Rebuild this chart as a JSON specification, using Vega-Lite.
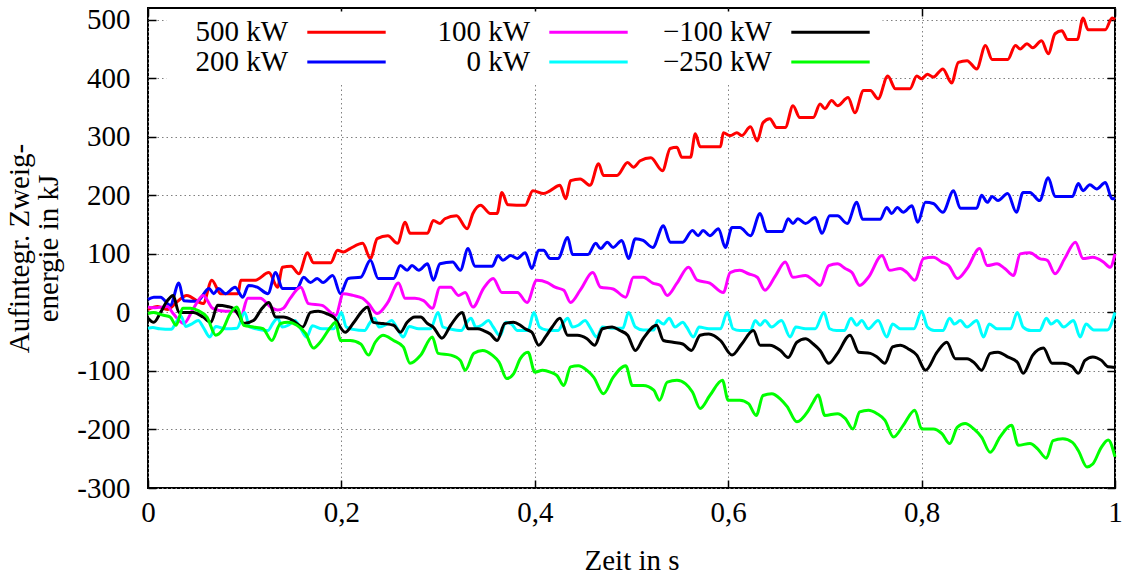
{
 "$schema": "https://vega.github.io/schema/vega-lite/v6.json",
 "width": 967,
 "height": 480,
 "autosize": {"type": "none"},
 "padding": {"left": 148, "top": 8, "right": 9, "bottom": 88},
 "config": {
  "font": "Liberation Serif",
  "view": {"stroke": "black", "strokeWidth": 2},
  "style": {"guide-label": {"font": "Liberation Serif", "fontSize": 29, "fill": "black"}, "guide-title": {"font": "Liberation Serif", "fontSize": 29, "fill": "black", "fontWeight": "normal"}},
  "axis": {"labelFont": "Liberation Serif", "titleFont": "Liberation Serif", "labelColor": "black", "titleColor": "black", "labelFontSize": 29, "titleFontSize": 29, "titleFontWeight": "normal", "tickColor": "black", "tickWidth": 1.5, "domain": false},
  "legend": {"labelFont": "Liberation Serif", "labelFontSize": 29}
 },
 "data": {"values": [
{"P":"500 kW","t":0,"E":5},{"P":"500 kW","t":0.01,"E":10},{"P":"500 kW","t":0.02,"E":5},{"P":"500 kW","t":0.03,"E":18},{"P":"500 kW","t":0.04,"E":29},{"P":"500 kW","t":0.057,"E":15},{"P":"500 kW","t":0.066,"E":55},{"P":"500 kW","t":0.075,"E":32},{"P":"500 kW","t":0.093,"E":32},{"P":"500 kW","t":0.096,"E":55},{"P":"500 kW","t":0.111,"E":55},{"P":"500 kW","t":0.125,"E":68},{"P":"500 kW","t":0.134,"E":43},{"P":"500 kW","t":0.139,"E":77},{"P":"500 kW","t":0.148,"E":79},{"P":"500 kW","t":0.156,"E":66},{"P":"500 kW","t":0.165,"E":102},{"P":"500 kW","t":0.171,"E":85},{"P":"500 kW","t":0.189,"E":85},{"P":"500 kW","t":0.196,"E":106},{"P":"500 kW","t":0.202,"E":103},{"P":"500 kW","t":0.209,"E":109},{"P":"500 kW","t":0.222,"E":118},{"P":"500 kW","t":0.23,"E":92},{"P":"500 kW","t":0.237,"E":126},{"P":"500 kW","t":0.248,"E":131},{"P":"500 kW","t":0.258,"E":118},{"P":"500 kW","t":0.266,"E":154},{"P":"500 kW","t":0.271,"E":135},{"P":"500 kW","t":0.289,"E":135},{"P":"500 kW","t":0.295,"E":157},{"P":"500 kW","t":0.302,"E":152},{"P":"500 kW","t":0.307,"E":160},{"P":"500 kW","t":0.319,"E":165},{"P":"500 kW","t":0.33,"E":143},{"P":"500 kW","t":0.336,"E":169},{"P":"500 kW","t":0.344,"E":183},{"P":"500 kW","t":0.354,"E":169},{"P":"500 kW","t":0.361,"E":169},{"P":"500 kW","t":0.366,"E":205},{"P":"500 kW","t":0.372,"E":184},{"P":"500 kW","t":0.39,"E":183},{"P":"500 kW","t":0.398,"E":208},{"P":"500 kW","t":0.409,"E":203},{"P":"500 kW","t":0.416,"E":208},{"P":"500 kW","t":0.426,"E":217},{"P":"500 kW","t":0.432,"E":194},{"P":"500 kW","t":0.437,"E":225},{"P":"500 kW","t":0.447,"E":228},{"P":"500 kW","t":0.457,"E":217},{"P":"500 kW","t":0.466,"E":254},{"P":"500 kW","t":0.471,"E":234},{"P":"500 kW","t":0.485,"E":234},{"P":"500 kW","t":0.496,"E":256},{"P":"500 kW","t":0.502,"E":248},{"P":"500 kW","t":0.509,"E":259},{"P":"500 kW","t":0.52,"E":264},{"P":"500 kW","t":0.532,"E":242},{"P":"500 kW","t":0.54,"E":280},{"P":"500 kW","t":0.547,"E":282},{"P":"500 kW","t":0.552,"E":265},{"P":"500 kW","t":0.561,"E":265},{"P":"500 kW","t":0.566,"E":305},{"P":"500 kW","t":0.571,"E":283},{"P":"500 kW","t":0.592,"E":283},{"P":"500 kW","t":0.595,"E":307},{"P":"500 kW","t":0.602,"E":302},{"P":"500 kW","t":0.609,"E":307},{"P":"500 kW","t":0.614,"E":302},{"P":"500 kW","t":0.623,"E":317},{"P":"500 kW","t":0.63,"E":293},{"P":"500 kW","t":0.636,"E":324},{"P":"500 kW","t":0.643,"E":331},{"P":"500 kW","t":0.65,"E":316},{"P":"500 kW","t":0.659,"E":316},{"P":"500 kW","t":0.667,"E":353},{"P":"500 kW","t":0.674,"E":333},{"P":"500 kW","t":0.688,"E":333},{"P":"500 kW","t":0.695,"E":356},{"P":"500 kW","t":0.7,"E":348},{"P":"500 kW","t":0.707,"E":362},{"P":"500 kW","t":0.713,"E":353},{"P":"500 kW","t":0.724,"E":367},{"P":"500 kW","t":0.731,"E":341},{"P":"500 kW","t":0.74,"E":379},{"P":"500 kW","t":0.747,"E":379},{"P":"500 kW","t":0.755,"E":365},{"P":"500 kW","t":0.765,"E":404},{"P":"500 kW","t":0.773,"E":382},{"P":"500 kW","t":0.788,"E":382},{"P":"500 kW","t":0.795,"E":404},{"P":"500 kW","t":0.8,"E":399},{"P":"500 kW","t":0.806,"E":407},{"P":"500 kW","t":0.812,"E":402},{"P":"500 kW","t":0.822,"E":416},{"P":"500 kW","t":0.831,"E":392},{"P":"500 kW","t":0.838,"E":427},{"P":"500 kW","t":0.847,"E":430},{"P":"500 kW","t":0.857,"E":416},{"P":"500 kW","t":0.866,"E":456},{"P":"500 kW","t":0.873,"E":432},{"P":"500 kW","t":0.889,"E":432},{"P":"500 kW","t":0.897,"E":456},{"P":"500 kW","t":0.902,"E":450},{"P":"500 kW","t":0.909,"E":459},{"P":"500 kW","t":0.915,"E":452},{"P":"500 kW","t":0.924,"E":464},{"P":"500 kW","t":0.931,"E":442},{"P":"500 kW","t":0.938,"E":476},{"P":"500 kW","t":0.945,"E":481},{"P":"500 kW","t":0.951,"E":466},{"P":"500 kW","t":0.961,"E":466},{"P":"500 kW","t":0.967,"E":503},{"P":"500 kW","t":0.972,"E":483},{"P":"500 kW","t":0.99,"E":483},{"P":"500 kW","t":0.997,"E":503},{"P":"500 kW","t":1,"E":500},
{"P":"200 kW","t":0,"E":22},{"P":"200 kW","t":0.006,"E":26},{"P":"200 kW","t":0.013,"E":26},{"P":"200 kW","t":0.023,"E":12},{"P":"200 kW","t":0.032,"E":50},{"P":"200 kW","t":0.037,"E":20},{"P":"200 kW","t":0.051,"E":19},{"P":"200 kW","t":0.063,"E":41},{"P":"200 kW","t":0.068,"E":32},{"P":"200 kW","t":0.073,"E":41},{"P":"200 kW","t":0.08,"E":32},{"P":"200 kW","t":0.09,"E":43},{"P":"200 kW","t":0.098,"E":26},{"P":"200 kW","t":0.104,"E":46},{"P":"200 kW","t":0.113,"E":43},{"P":"200 kW","t":0.124,"E":32},{"P":"200 kW","t":0.132,"E":68},{"P":"200 kW","t":0.139,"E":41},{"P":"200 kW","t":0.154,"E":41},{"P":"200 kW","t":0.161,"E":60},{"P":"200 kW","t":0.168,"E":51},{"P":"200 kW","t":0.175,"E":58},{"P":"200 kW","t":0.181,"E":51},{"P":"200 kW","t":0.191,"E":63},{"P":"200 kW","t":0.199,"E":32},{"P":"200 kW","t":0.207,"E":58},{"P":"200 kW","t":0.22,"E":60},{"P":"200 kW","t":0.23,"E":89},{"P":"200 kW","t":0.238,"E":58},{"P":"200 kW","t":0.254,"E":58},{"P":"200 kW","t":0.261,"E":80},{"P":"200 kW","t":0.268,"E":72},{"P":"200 kW","t":0.273,"E":80},{"P":"200 kW","t":0.28,"E":72},{"P":"200 kW","t":0.289,"E":83},{"P":"200 kW","t":0.295,"E":55},{"P":"200 kW","t":0.302,"E":83},{"P":"200 kW","t":0.315,"E":86},{"P":"200 kW","t":0.323,"E":72},{"P":"200 kW","t":0.331,"E":109},{"P":"200 kW","t":0.338,"E":79},{"P":"200 kW","t":0.356,"E":79},{"P":"200 kW","t":0.362,"E":97},{"P":"200 kW","t":0.367,"E":89},{"P":"200 kW","t":0.375,"E":97},{"P":"200 kW","t":0.382,"E":92},{"P":"200 kW","t":0.39,"E":102},{"P":"200 kW","t":0.397,"E":75},{"P":"200 kW","t":0.404,"E":106},{"P":"200 kW","t":0.409,"E":106},{"P":"200 kW","t":0.416,"E":92},{"P":"200 kW","t":0.424,"E":92},{"P":"200 kW","t":0.434,"E":128},{"P":"200 kW","t":0.439,"E":99},{"P":"200 kW","t":0.455,"E":99},{"P":"200 kW","t":0.463,"E":118},{"P":"200 kW","t":0.468,"E":109},{"P":"200 kW","t":0.475,"E":120},{"P":"200 kW","t":0.481,"E":111},{"P":"200 kW","t":0.49,"E":123},{"P":"200 kW","t":0.497,"E":92},{"P":"200 kW","t":0.504,"E":126},{"P":"200 kW","t":0.512,"E":123},{"P":"200 kW","t":0.522,"E":111},{"P":"200 kW","t":0.533,"E":148},{"P":"200 kW","t":0.54,"E":120},{"P":"200 kW","t":0.553,"E":120},{"P":"200 kW","t":0.563,"E":140},{"P":"200 kW","t":0.569,"E":131},{"P":"200 kW","t":0.574,"E":140},{"P":"200 kW","t":0.581,"E":131},{"P":"200 kW","t":0.59,"E":143},{"P":"200 kW","t":0.597,"E":111},{"P":"200 kW","t":0.604,"E":145},{"P":"200 kW","t":0.612,"E":145},{"P":"200 kW","t":0.623,"E":131},{"P":"200 kW","t":0.633,"E":169},{"P":"200 kW","t":0.64,"E":138},{"P":"200 kW","t":0.656,"E":138},{"P":"200 kW","t":0.662,"E":160},{"P":"200 kW","t":0.667,"E":152},{"P":"200 kW","t":0.672,"E":160},{"P":"200 kW","t":0.68,"E":152},{"P":"200 kW","t":0.69,"E":162},{"P":"200 kW","t":0.697,"E":135},{"P":"200 kW","t":0.705,"E":165},{"P":"200 kW","t":0.713,"E":165},{"P":"200 kW","t":0.723,"E":152},{"P":"200 kW","t":0.733,"E":188},{"P":"200 kW","t":0.739,"E":159},{"P":"200 kW","t":0.757,"E":159},{"P":"200 kW","t":0.764,"E":179},{"P":"200 kW","t":0.769,"E":169},{"P":"200 kW","t":0.775,"E":179},{"P":"200 kW","t":0.781,"E":171},{"P":"200 kW","t":0.79,"E":182},{"P":"200 kW","t":0.796,"E":154},{"P":"200 kW","t":0.804,"E":188},{"P":"200 kW","t":0.812,"E":186},{"P":"200 kW","t":0.822,"E":171},{"P":"200 kW","t":0.833,"E":208},{"P":"200 kW","t":0.84,"E":178},{"P":"200 kW","t":0.857,"E":178},{"P":"200 kW","t":0.862,"E":200},{"P":"200 kW","t":0.868,"E":188},{"P":"200 kW","t":0.873,"E":198},{"P":"200 kW","t":0.879,"E":191},{"P":"200 kW","t":0.889,"E":203},{"P":"200 kW","t":0.898,"E":171},{"P":"200 kW","t":0.905,"E":205},{"P":"200 kW","t":0.912,"E":205},{"P":"200 kW","t":0.922,"E":191},{"P":"200 kW","t":0.931,"E":230},{"P":"200 kW","t":0.938,"E":198},{"P":"200 kW","t":0.956,"E":198},{"P":"200 kW","t":0.962,"E":220},{"P":"200 kW","t":0.967,"E":208},{"P":"200 kW","t":0.974,"E":218},{"P":"200 kW","t":0.981,"E":211},{"P":"200 kW","t":0.99,"E":222},{"P":"200 kW","t":0.997,"E":194},{"P":"200 kW","t":1,"E":195},
{"P":"100 kW","t":0,"E":9},{"P":"100 kW","t":0.007,"E":8},{"P":"100 kW","t":0.02,"E":10},{"P":"100 kW","t":0.026,"E":-2},{"P":"100 kW","t":0.037,"E":-19},{"P":"100 kW","t":0.047,"E":7},{"P":"100 kW","t":0.057,"E":29},{"P":"100 kW","t":0.067,"E":7},{"P":"100 kW","t":0.08,"E":2},{"P":"100 kW","t":0.09,"E":2},{"P":"100 kW","t":0.096,"E":-8},{"P":"100 kW","t":0.103,"E":24},{"P":"100 kW","t":0.116,"E":24},{"P":"100 kW","t":0.127,"E":9},{"P":"100 kW","t":0.134,"E":4},{"P":"100 kW","t":0.14,"E":7},{"P":"100 kW","t":0.147,"E":24},{"P":"100 kW","t":0.158,"E":43},{"P":"100 kW","t":0.166,"E":15},{"P":"100 kW","t":0.18,"E":12},{"P":"100 kW","t":0.194,"E":-5},{"P":"100 kW","t":0.202,"E":32},{"P":"100 kW","t":0.212,"E":29},{"P":"100 kW","t":0.222,"E":24},{"P":"100 kW","t":0.228,"E":15},{"P":"100 kW","t":0.237,"E":-2},{"P":"100 kW","t":0.248,"E":17},{"P":"100 kW","t":0.259,"E":50},{"P":"100 kW","t":0.266,"E":24},{"P":"100 kW","t":0.276,"E":24},{"P":"100 kW","t":0.285,"E":20},{"P":"100 kW","t":0.294,"E":7},{"P":"100 kW","t":0.302,"E":43},{"P":"100 kW","t":0.313,"E":43},{"P":"100 kW","t":0.321,"E":29},{"P":"100 kW","t":0.328,"E":34},{"P":"100 kW","t":0.336,"E":9},{"P":"100 kW","t":0.347,"E":41},{"P":"100 kW","t":0.357,"E":58},{"P":"100 kW","t":0.366,"E":34},{"P":"100 kW","t":0.382,"E":34},{"P":"100 kW","t":0.392,"E":17},{"P":"100 kW","t":0.402,"E":55},{"P":"100 kW","t":0.413,"E":51},{"P":"100 kW","t":0.421,"E":43},{"P":"100 kW","t":0.43,"E":38},{"P":"100 kW","t":0.437,"E":17},{"P":"100 kW","t":0.447,"E":38},{"P":"100 kW","t":0.46,"E":68},{"P":"100 kW","t":0.468,"E":43},{"P":"100 kW","t":0.481,"E":40},{"P":"100 kW","t":0.494,"E":26},{"P":"100 kW","t":0.502,"E":60},{"P":"100 kW","t":0.512,"E":60},{"P":"100 kW","t":0.522,"E":50},{"P":"100 kW","t":0.53,"E":46},{"P":"100 kW","t":0.537,"E":29},{"P":"100 kW","t":0.547,"E":50},{"P":"100 kW","t":0.559,"E":77},{"P":"100 kW","t":0.568,"E":55},{"P":"100 kW","t":0.581,"E":50},{"P":"100 kW","t":0.595,"E":34},{"P":"100 kW","t":0.602,"E":68},{"P":"100 kW","t":0.612,"E":72},{"P":"100 kW","t":0.621,"E":66},{"P":"100 kW","t":0.63,"E":60},{"P":"100 kW","t":0.638,"E":38},{"P":"100 kW","t":0.649,"E":63},{"P":"100 kW","t":0.659,"E":86},{"P":"100 kW","t":0.667,"E":60},{"P":"100 kW","t":0.68,"E":63},{"P":"100 kW","t":0.688,"E":55},{"P":"100 kW","t":0.695,"E":46},{"P":"100 kW","t":0.704,"E":80},{"P":"100 kW","t":0.713,"E":83},{"P":"100 kW","t":0.721,"E":75},{"P":"100 kW","t":0.728,"E":68},{"P":"100 kW","t":0.736,"E":46},{"P":"100 kW","t":0.745,"E":60},{"P":"100 kW","t":0.759,"E":97},{"P":"100 kW","t":0.767,"E":72},{"P":"100 kW","t":0.778,"E":75},{"P":"100 kW","t":0.785,"E":68},{"P":"100 kW","t":0.793,"E":55},{"P":"100 kW","t":0.802,"E":92},{"P":"100 kW","t":0.812,"E":94},{"P":"100 kW","t":0.821,"E":86},{"P":"100 kW","t":0.828,"E":80},{"P":"100 kW","t":0.837,"E":58},{"P":"100 kW","t":0.847,"E":75},{"P":"100 kW","t":0.86,"E":109},{"P":"100 kW","t":0.868,"E":80},{"P":"100 kW","t":0.878,"E":83},{"P":"100 kW","t":0.886,"E":75},{"P":"100 kW","t":0.895,"E":63},{"P":"100 kW","t":0.902,"E":100},{"P":"100 kW","t":0.912,"E":102},{"P":"100 kW","t":0.922,"E":92},{"P":"100 kW","t":0.93,"E":89},{"P":"100 kW","t":0.938,"E":66},{"P":"100 kW","t":0.948,"E":92},{"P":"100 kW","t":0.959,"E":120},{"P":"100 kW","t":0.967,"E":92},{"P":"100 kW","t":0.977,"E":94},{"P":"100 kW","t":0.988,"E":86},{"P":"100 kW","t":0.995,"E":77},{"P":"100 kW","t":1,"E":100},
{"P":"0 kW","t":0,"E":-27},{"P":"0 kW","t":0.005,"E":-26},{"P":"0 kW","t":0.012,"E":-28},{"P":"0 kW","t":0.024,"E":-29},{"P":"0 kW","t":0.029,"E":-17},{"P":"0 kW","t":0.034,"E":-6},{"P":"0 kW","t":0.039,"E":-24},{"P":"0 kW","t":0.045,"E":-20},{"P":"0 kW","t":0.052,"E":-14},{"P":"0 kW","t":0.057,"E":-25},{"P":"0 kW","t":0.064,"E":-42},{"P":"0 kW","t":0.07,"E":-24},{"P":"0 kW","t":0.08,"E":-28},{"P":"0 kW","t":0.092,"E":-27},
{"P":"0 kW","t":0.1,"E":0},{"P":"0 kW","t":0.105,"E":-25},{"P":"0 kW","t":0.112,"E":-28},{"P":"0 kW","t":0.124,"E":-31},{"P":"0 kW","t":0.129,"E":-19},{"P":"0 kW","t":0.134,"E":-10},{"P":"0 kW","t":0.139,"E":-25},{"P":"0 kW","t":0.145,"E":-22},{"P":"0 kW","t":0.152,"E":-14},{"P":"0 kW","t":0.157,"E":-25},{"P":"0 kW","t":0.164,"E":-42},{"P":"0 kW","t":0.17,"E":-23},{"P":"0 kW","t":0.18,"E":-28},{"P":"0 kW","t":0.192,"E":-28},
{"P":"0 kW","t":0.2,"E":0},{"P":"0 kW","t":0.205,"E":-25},{"P":"0 kW","t":0.212,"E":-29},{"P":"0 kW","t":0.224,"E":-31},{"P":"0 kW","t":0.229,"E":-19},{"P":"0 kW","t":0.234,"E":-10},{"P":"0 kW","t":0.239,"E":-25},{"P":"0 kW","t":0.245,"E":-22},{"P":"0 kW","t":0.252,"E":-14},{"P":"0 kW","t":0.257,"E":-25},{"P":"0 kW","t":0.264,"E":-42},{"P":"0 kW","t":0.27,"E":-24},{"P":"0 kW","t":0.28,"E":-28},{"P":"0 kW","t":0.292,"E":-28},
{"P":"0 kW","t":0.3,"E":0},{"P":"0 kW","t":0.305,"E":-25},{"P":"0 kW","t":0.312,"E":-28},{"P":"0 kW","t":0.324,"E":-31},{"P":"0 kW","t":0.329,"E":-19},{"P":"0 kW","t":0.334,"E":-10},{"P":"0 kW","t":0.339,"E":-25},{"P":"0 kW","t":0.345,"E":-22},{"P":"0 kW","t":0.352,"E":-14},{"P":"0 kW","t":0.357,"E":-25},{"P":"0 kW","t":0.364,"E":-40},{"P":"0 kW","t":0.37,"E":-17},{"P":"0 kW","t":0.376,"E":-20},{"P":"0 kW","t":0.382,"E":-31},{"P":"0 kW","t":0.393,"E":-31},
{"P":"0 kW","t":0.399,"E":0},{"P":"0 kW","t":0.405,"E":-25},{"P":"0 kW","t":0.412,"E":-30},{"P":"0 kW","t":0.424,"E":-31},{"P":"0 kW","t":0.429,"E":-19},{"P":"0 kW","t":0.434,"E":-10},{"P":"0 kW","t":0.439,"E":-25},{"P":"0 kW","t":0.445,"E":-22},{"P":"0 kW","t":0.452,"E":-14},{"P":"0 kW","t":0.457,"E":-25},{"P":"0 kW","t":0.464,"E":-42},{"P":"0 kW","t":0.47,"E":-25},{"P":"0 kW","t":0.48,"E":-27},{"P":"0 kW","t":0.491,"E":-27},
{"P":"0 kW","t":0.497,"E":0},{"P":"0 kW","t":0.504,"E":-25},{"P":"0 kW","t":0.512,"E":-30},{"P":"0 kW","t":0.523,"E":-30},{"P":"0 kW","t":0.527,"E":-14},{"P":"0 kW","t":0.533,"E":-20},{"P":"0 kW","t":0.539,"E":-10},{"P":"0 kW","t":0.545,"E":-25},{"P":"0 kW","t":0.553,"E":-17},{"P":"0 kW","t":0.557,"E":-25},{"P":"0 kW","t":0.564,"E":-42},{"P":"0 kW","t":0.57,"E":-25},{"P":"0 kW","t":0.58,"E":-28},{"P":"0 kW","t":0.592,"E":-28},
{"P":"0 kW","t":0.599,"E":0},{"P":"0 kW","t":0.605,"E":-28},{"P":"0 kW","t":0.612,"E":-31},{"P":"0 kW","t":0.623,"E":-31},{"P":"0 kW","t":0.628,"E":-14},{"P":"0 kW","t":0.633,"E":-22},{"P":"0 kW","t":0.638,"E":-14},{"P":"0 kW","t":0.645,"E":-25},{"P":"0 kW","t":0.655,"E":-14},{"P":"0 kW","t":0.664,"E":-42},{"P":"0 kW","t":0.67,"E":-25},{"P":"0 kW","t":0.68,"E":-28},{"P":"0 kW","t":0.69,"E":-28},
{"P":"0 kW","t":0.699,"E":0},{"P":"0 kW","t":0.705,"E":-28},{"P":"0 kW","t":0.712,"E":-31},{"P":"0 kW","t":0.72,"E":-31},{"P":"0 kW","t":0.727,"E":-10},{"P":"0 kW","t":0.733,"E":-22},{"P":"0 kW","t":0.738,"E":-14},{"P":"0 kW","t":0.745,"E":-28},{"P":"0 kW","t":0.755,"E":-14},{"P":"0 kW","t":0.764,"E":-42},{"P":"0 kW","t":0.77,"E":-20},{"P":"0 kW","t":0.778,"E":-28},{"P":"0 kW","t":0.792,"E":-28},
{"P":"0 kW","t":0.8,"E":2},{"P":"0 kW","t":0.806,"E":-25},{"P":"0 kW","t":0.813,"E":-31},{"P":"0 kW","t":0.822,"E":-31},{"P":"0 kW","t":0.829,"E":-10},{"P":"0 kW","t":0.834,"E":-20},{"P":"0 kW","t":0.84,"E":-14},{"P":"0 kW","t":0.847,"E":-25},{"P":"0 kW","t":0.857,"E":-14},{"P":"0 kW","t":0.864,"E":-42},{"P":"0 kW","t":0.87,"E":-20},{"P":"0 kW","t":0.878,"E":-28},{"P":"0 kW","t":0.892,"E":-28},
{"P":"0 kW","t":0.899,"E":0},{"P":"0 kW","t":0.905,"E":-25},{"P":"0 kW","t":0.913,"E":-31},{"P":"0 kW","t":0.922,"E":-31},{"P":"0 kW","t":0.929,"E":-10},{"P":"0 kW","t":0.934,"E":-20},{"P":"0 kW","t":0.94,"E":-14},{"P":"0 kW","t":0.947,"E":-25},{"P":"0 kW","t":0.957,"E":-14},{"P":"0 kW","t":0.964,"E":-42},{"P":"0 kW","t":0.97,"E":-20},{"P":"0 kW","t":0.978,"E":-30},{"P":"0 kW","t":0.992,"E":-30},{"P":"0 kW","t":1,"E":0},
{"P":"−100 kW","t":0,"E":-10},{"P":"−100 kW","t":0.006,"E":-17},{"P":"−100 kW","t":0.013,"E":0},{"P":"−100 kW","t":0.02,"E":20},{"P":"−100 kW","t":0.026,"E":29},{"P":"−100 kW","t":0.032,"E":0},{"P":"−100 kW","t":0.047,"E":0},{"P":"−100 kW","t":0.057,"E":-8},{"P":"−100 kW","t":0.065,"E":-17},{"P":"−100 kW","t":0.072,"E":12},{"P":"−100 kW","t":0.082,"E":10},{"P":"−100 kW","t":0.088,"E":7},{"P":"−100 kW","t":0.094,"E":-5},{"P":"−100 kW","t":0.099,"E":-19},{"P":"−100 kW","t":0.109,"E":-14},{"P":"−100 kW","t":0.118,"E":7},{"P":"−100 kW","t":0.125,"E":17},{"P":"−100 kW","t":0.132,"E":-8},{"P":"−100 kW","t":0.14,"E":-8},{"P":"−100 kW","t":0.15,"E":-14},{"P":"−100 kW","t":0.16,"E":-25},{"P":"−100 kW","t":0.168,"E":0},{"P":"−100 kW","t":0.176,"E":2},{"P":"−100 kW","t":0.186,"E":-3},{"P":"−100 kW","t":0.192,"E":-8},{"P":"−100 kW","t":0.204,"E":-34},{"P":"−100 kW","t":0.212,"E":-19},{"P":"−100 kW","t":0.222,"E":3},{"P":"−100 kW","t":0.227,"E":9},{"P":"−100 kW","t":0.233,"E":-17},{"P":"−100 kW","t":0.243,"E":-19},{"P":"−100 kW","t":0.254,"E":-22},{"P":"−100 kW","t":0.261,"E":-34},{"P":"−100 kW","t":0.268,"E":-17},{"P":"−100 kW","t":0.276,"E":-8},{"P":"−100 kW","t":0.282,"E":-8},{"P":"−100 kW","t":0.289,"E":-19},{"P":"−100 kW","t":0.295,"E":-25},{"P":"−100 kW","t":0.304,"E":-44},{"P":"−100 kW","t":0.313,"E":-22},{"P":"−100 kW","t":0.325,"E":0},{"P":"−100 kW","t":0.331,"E":-28},{"P":"−100 kW","t":0.341,"E":-28},{"P":"−100 kW","t":0.347,"E":-31},{"P":"−100 kW","t":0.354,"E":-37},{"P":"−100 kW","t":0.361,"E":-48},{"P":"−100 kW","t":0.369,"E":-19},{"P":"−100 kW","t":0.378,"E":-17},{"P":"−100 kW","t":0.385,"E":-22},{"P":"−100 kW","t":0.39,"E":-28},{"P":"−100 kW","t":0.397,"E":-34},{"P":"−100 kW","t":0.404,"E":-56},{"P":"−100 kW","t":0.411,"E":-42},{"P":"−100 kW","t":0.418,"E":-25},{"P":"−100 kW","t":0.426,"E":-10},{"P":"−100 kW","t":0.434,"E":-39},{"P":"−100 kW","t":0.444,"E":-39},{"P":"−100 kW","t":0.454,"E":-45},{"P":"−100 kW","t":0.462,"E":-56},{"P":"−100 kW","t":0.47,"E":-28},{"P":"−100 kW","t":0.48,"E":-25},{"P":"−100 kW","t":0.488,"E":-31},{"P":"−100 kW","t":0.496,"E":-39},{"P":"−100 kW","t":0.504,"E":-65},{"P":"−100 kW","t":0.512,"E":-45},{"P":"−100 kW","t":0.526,"E":-22},{"P":"−100 kW","t":0.533,"E":-48},{"P":"−100 kW","t":0.543,"E":-51},{"P":"−100 kW","t":0.553,"E":-54},{"P":"−100 kW","t":0.562,"E":-65},{"P":"−100 kW","t":0.571,"E":-39},{"P":"−100 kW","t":0.58,"E":-37},{"P":"−100 kW","t":0.592,"E":-48},{"P":"−100 kW","t":0.604,"E":-73},{"P":"−100 kW","t":0.614,"E":-54},{"P":"−100 kW","t":0.626,"E":-31},{"P":"−100 kW","t":0.633,"E":-56},{"P":"−100 kW","t":0.643,"E":-56},{"P":"−100 kW","t":0.654,"E":-65},{"P":"−100 kW","t":0.662,"E":-77},{"P":"−100 kW","t":0.671,"E":-51},{"P":"−100 kW","t":0.68,"E":-45},{"P":"−100 kW","t":0.688,"E":-54},{"P":"−100 kW","t":0.695,"E":-65},{"P":"−100 kW","t":0.704,"E":-87},{"P":"−100 kW","t":0.713,"E":-70},{"P":"−100 kW","t":0.726,"E":-39},{"P":"−100 kW","t":0.735,"E":-68},{"P":"−100 kW","t":0.747,"E":-70},{"P":"−100 kW","t":0.754,"E":-76},{"P":"−100 kW","t":0.762,"E":-87},{"P":"−100 kW","t":0.77,"E":-59},{"P":"−100 kW","t":0.778,"E":-56},{"P":"−100 kW","t":0.786,"E":-62},{"P":"−100 kW","t":0.795,"E":-73},{"P":"−100 kW","t":0.804,"E":-99},{"P":"−100 kW","t":0.816,"E":-68},{"P":"−100 kW","t":0.826,"E":-51},{"P":"−100 kW","t":0.835,"E":-79},{"P":"−100 kW","t":0.847,"E":-79},{"P":"−100 kW","t":0.855,"E":-87},{"P":"−100 kW","t":0.862,"E":-99},{"P":"−100 kW","t":0.871,"E":-70},{"P":"−100 kW","t":0.879,"E":-68},{"P":"−100 kW","t":0.889,"E":-76},{"P":"−100 kW","t":0.899,"E":-85},{"P":"−100 kW","t":0.905,"E":-104},{"P":"−100 kW","t":0.915,"E":-73},{"P":"−100 kW","t":0.926,"E":-61},{"P":"−100 kW","t":0.935,"E":-87},{"P":"−100 kW","t":0.946,"E":-87},{"P":"−100 kW","t":0.956,"E":-93},{"P":"−100 kW","t":0.962,"E":-104},{"P":"−100 kW","t":0.969,"E":-82},{"P":"−100 kW","t":0.977,"E":-76},{"P":"−100 kW","t":0.986,"E":-82},{"P":"−100 kW","t":0.993,"E":-93},{"P":"−100 kW","t":1,"E":-94},
{"P":"−250 kW","t":0,"E":-2},{"P":"−250 kW","t":0.006,"E":0},{"P":"−250 kW","t":0.016,"E":-5},{"P":"−250 kW","t":0.023,"E":-8},{"P":"−250 kW","t":0.029,"E":-22},{"P":"−250 kW","t":0.036,"E":7},{"P":"−250 kW","t":0.044,"E":7},{"P":"−250 kW","t":0.052,"E":3},{"P":"−250 kW","t":0.061,"E":-8},{"P":"−250 kW","t":0.07,"E":-39},{"P":"−250 kW","t":0.077,"E":-30},{"P":"−250 kW","t":0.085,"E":-2},{"P":"−250 kW","t":0.092,"E":9},{"P":"−250 kW","t":0.099,"E":-22},{"P":"−250 kW","t":0.109,"E":-25},{"P":"−250 kW","t":0.119,"E":-28},{"P":"−250 kW","t":0.128,"E":-48},{"P":"−250 kW","t":0.137,"E":-19},{"P":"−250 kW","t":0.145,"E":-17},{"P":"−250 kW","t":0.154,"E":-22},{"P":"−250 kW","t":0.163,"E":-36},{"P":"−250 kW","t":0.171,"E":-61},{"P":"−250 kW","t":0.178,"E":-51},{"P":"−250 kW","t":0.189,"E":-25},{"P":"−250 kW","t":0.194,"E":-17},{"P":"−250 kW","t":0.199,"E":-48},{"P":"−250 kW","t":0.209,"E":-48},{"P":"−250 kW","t":0.22,"E":-54},{"P":"−250 kW","t":0.228,"E":-73},{"P":"−250 kW","t":0.235,"E":-51},{"P":"−250 kW","t":0.243,"E":-39},{"P":"−250 kW","t":0.254,"E":-48},{"P":"−250 kW","t":0.264,"E":-59},{"P":"−250 kW","t":0.271,"E":-87},{"P":"−250 kW","t":0.282,"E":-73},{"P":"−250 kW","t":0.294,"E":-42},{"P":"−250 kW","t":0.3,"E":-70},{"P":"−250 kW","t":0.313,"E":-73},{"P":"−250 kW","t":0.323,"E":-82},{"P":"−250 kW","t":0.328,"E":-99},{"P":"−250 kW","t":0.337,"E":-70},{"P":"−250 kW","t":0.346,"E":-65},{"P":"−250 kW","t":0.356,"E":-73},{"P":"−250 kW","t":0.363,"E":-85},{"P":"−250 kW","t":0.371,"E":-113},{"P":"−250 kW","t":0.378,"E":-105},{"P":"−250 kW","t":0.385,"E":-79},{"P":"−250 kW","t":0.393,"E":-68},{"P":"−250 kW","t":0.4,"E":-102},{"P":"−250 kW","t":0.408,"E":-99},{"P":"−250 kW","t":0.416,"E":-102},{"P":"−250 kW","t":0.423,"E":-108},{"P":"−250 kW","t":0.43,"E":-125},{"P":"−250 kW","t":0.437,"E":-93},{"P":"−250 kW","t":0.445,"E":-91},{"P":"−250 kW","t":0.454,"E":-99},{"P":"−250 kW","t":0.461,"E":-111},{"P":"−250 kW","t":0.471,"E":-139},{"P":"−250 kW","t":0.481,"E":-111},{"P":"−250 kW","t":0.494,"E":-91},{"P":"−250 kW","t":0.501,"E":-125},{"P":"−250 kW","t":0.512,"E":-125},{"P":"−250 kW","t":0.523,"E":-133},{"P":"−250 kW","t":0.529,"E":-150},{"P":"−250 kW","t":0.537,"E":-119},{"P":"−250 kW","t":0.547,"E":-116},{"P":"−250 kW","t":0.556,"E":-122},{"P":"−250 kW","t":0.563,"E":-136},{"P":"−250 kW","t":0.571,"E":-164},{"P":"−250 kW","t":0.581,"E":-142},{"P":"−250 kW","t":0.594,"E":-116},{"P":"−250 kW","t":0.6,"E":-150},{"P":"−250 kW","t":0.612,"E":-150},{"P":"−250 kW","t":0.621,"E":-156},{"P":"−250 kW","t":0.629,"E":-176},{"P":"−250 kW","t":0.636,"E":-142},{"P":"−250 kW","t":0.645,"E":-139},{"P":"−250 kW","t":0.654,"E":-148},{"P":"−250 kW","t":0.661,"E":-161},{"P":"−250 kW","t":0.671,"E":-187},{"P":"−250 kW","t":0.682,"E":-170},{"P":"−250 kW","t":0.688,"E":-153},{"P":"−250 kW","t":0.693,"E":-141},{"P":"−250 kW","t":0.7,"E":-176},{"P":"−250 kW","t":0.713,"E":-173},{"P":"−250 kW","t":0.721,"E":-181},{"P":"−250 kW","t":0.729,"E":-199},{"P":"−250 kW","t":0.736,"E":-170},{"P":"−250 kW","t":0.745,"E":-167},{"P":"−250 kW","t":0.754,"E":-173},{"P":"−250 kW","t":0.762,"E":-184},{"P":"−250 kW","t":0.771,"E":-213},{"P":"−250 kW","t":0.781,"E":-193},{"P":"−250 kW","t":0.793,"E":-167},{"P":"−250 kW","t":0.8,"E":-199},{"P":"−250 kW","t":0.812,"E":-199},{"P":"−250 kW","t":0.821,"E":-207},{"P":"−250 kW","t":0.829,"E":-224},{"P":"−250 kW","t":0.837,"E":-196},{"P":"−250 kW","t":0.845,"E":-190},{"P":"−250 kW","t":0.854,"E":-199},{"P":"−250 kW","t":0.862,"E":-213},{"P":"−250 kW","t":0.871,"E":-239},{"P":"−250 kW","t":0.881,"E":-213},{"P":"−250 kW","t":0.893,"E":-193},{"P":"−250 kW","t":0.9,"E":-227},{"P":"−250 kW","t":0.912,"E":-224},{"P":"−250 kW","t":0.92,"E":-233},{"P":"−250 kW","t":0.929,"E":-249},{"P":"−250 kW","t":0.936,"E":-219},{"P":"−250 kW","t":0.946,"E":-216},{"P":"−250 kW","t":0.956,"E":-222},{"P":"−250 kW","t":0.962,"E":-236},{"P":"−250 kW","t":0.971,"E":-264},{"P":"−250 kW","t":0.977,"E":-259},{"P":"−250 kW","t":0.986,"E":-230},{"P":"−250 kW","t":0.993,"E":-218},{"P":"−250 kW","t":1,"E":-247}
 ]},
 "layer": [
  {
   "mark": {"type": "line", "strokeWidth": 3, "strokeJoin": "round", "interpolate": "monotone"},
   "encoding": {
    "x": {"field": "t", "type": "quantitative", "scale": {"domain": [0, 1], "nice": false},
     "axis": {"orient": "bottom", "values": [0, 0.2, 0.4, 0.6, 0.8, 1], "labelExpr": "replace(format(datum.value, '.1~f'), '.', ',')", "labelFont": "Liberation Serif", "titleFont": "Liberation Serif", "labelFlush": false, "grid": true, "gridColor": "#808080", "gridDash": [1.5, 3], "gridWidth": 1, "tickSize": -8, "labelPadding": 18, "title": "Zeit in s", "titlePadding": 19}},
    "y": {"field": "E", "type": "quantitative", "scale": {"domain": [-300, 520], "nice": false},
     "axis": {"orient": "left", "values": [-300, -200, -100, 0, 100, 200, 300, 400, 500], "labelExpr": "'' + datum.value", "labelFont": "Liberation Serif", "titleFont": "Liberation Serif", "labelFlush": false, "grid": true, "gridColor": "#808080", "gridDash": [1.5, 3], "gridWidth": 1, "tickSize": -8, "labelPadding": 26, "title": ["Aufintegr. Zweig-", "energie in kJ"], "titleLineHeight": 29, "titleX": -129, "titleY": 240, "titleAngle": -90, "titleAlign": "center", "titleBaseline": "middle"}},
    "color": {"field": "P", "type": "nominal",
     "scale": {"domain": ["500 kW", "200 kW", "100 kW", "0 kW", "−100 kW", "−250 kW"], "range": ["#ff0000", "#0000ff", "#ff00ff", "#00ffff", "#000000", "#00ff00"]},
     "legend": {"orient": "none", "legendX": 18.5, "legendY": 3.5, "columns": 3, "gridAlign": "all", "title": null, "symbolType": "M-4.9,0H4.9", "symbolSize": 256, "symbolStrokeWidth": 3, "symbolOffset": 159.5, "labelAlign": "right", "labelOffset": -73, "labelFontSize": 29, "labelFont": "Liberation Serif", "labelColor": "black", "labelLimit": 300, "rowPadding": 0, "columnPadding": 22, "fillColor": "white", "padding": 6}}
   }
  },
  {
   "mark": {"type": "point", "opacity": 0},
   "encoding": {
    "x": {"field": "t", "type": "quantitative", "scale": {"domain": [0, 1], "nice": false},
     "axis": {"orient": "top", "values": [0, 0.2, 0.4, 0.6, 0.8, 1], "labels": false, "grid": false, "tickSize": -8, "title": null}},
    "y": {"field": "E", "type": "quantitative", "scale": {"domain": [-300, 520], "nice": false},
     "axis": {"orient": "right", "values": [-300, -200, -100, 0, 100, 200, 300, 400, 500], "labels": false, "grid": false, "tickSize": -8, "title": null}}
   }
  }
 ],
 "resolve": {"axis": {"x": "independent", "y": "independent"}}
}
